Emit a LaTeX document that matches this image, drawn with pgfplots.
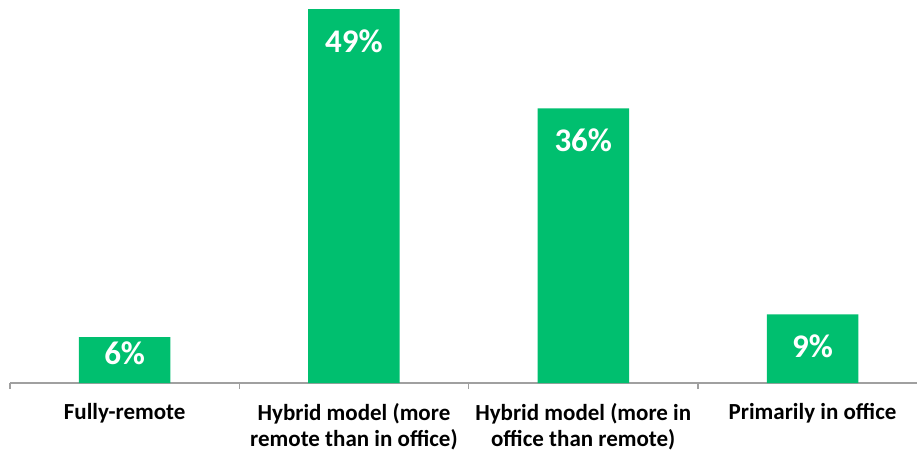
\documentclass[border=0pt]{standalone}
\usepackage{pgfplots}
\pgfplotsset{compat=1.18}
\usepackage{fontspec}
\setmainfont{Carlito}
\definecolor{barGreen}{RGB}{0,191,111}
\definecolor{axisGray}{RGB}{160,160,160}

% share of respondents by preferred work arrangement (%), with label offset below bar top
\pgfplotstableread{
x y shift
0 6  -16
1 49 -32
2 36 -31.5
3 9  -31.5
}\worktable

\begin{document}
\begin{tikzpicture}
\begin{axis}[
  at={(0,0)}, anchor=south west,
  scale only axis,
  width=917.2pt, height=381.5pt,
  xmin=-0.5, xmax=3.5, ymin=0, ymax=50,
  axis x line*=bottom, axis y line=none,
  axis line style={axisGray, line width=1.2pt, -},
  ytick=\empty,
  xtick={0,1,2,3},
  xticklabels={Fully-remote, Hybrid model (more\\remote than in office), Hybrid model (more in\\office than remote), Primarily in office},
  xticklabel style={align=center, font=\fontsize{23}{26}\selectfont\bfseries, anchor=north, yshift=-16.5pt},
  major tick length=0pt,
  minor xtick={-0.5,0.5,1.5,2.5,3.5},
  minor tick length=6pt,
  tick align=outside,
  minor tick style={axisGray, line width=1.2pt},
  ybar, bar width=91.5pt, bar shift=0pt,
  clip=false,
  /pgf/number format/assume math mode=true,
  visualization depends on={\thisrow{shift} \as \lshift},
  nodes near coords={\pgfmathprintnumber{\pgfplotspointmeta}\%},
  every node near coord/.append style={anchor=center, yshift=\lshift, text=white, font=\fontsize{33}{38}\selectfont\bfseries},
]
\addplot[fill=barGreen, draw=none] table[x=x, y=y] {\worktable};
\end{axis}
\pgfresetboundingbox
\useasboundingbox (-10pt,-70pt) rectangle (907pt,383pt);
\end{tikzpicture}
\end{document}
